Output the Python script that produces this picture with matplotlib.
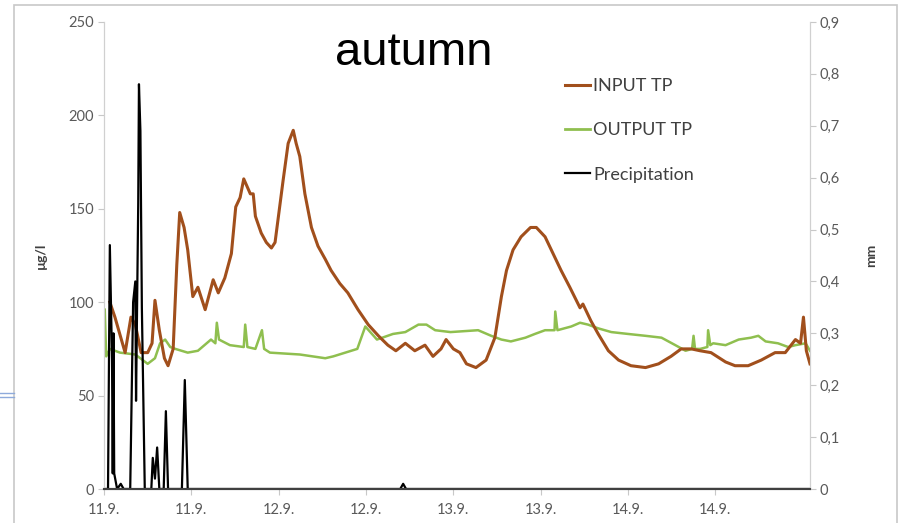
import matplotlib
matplotlib.use("Agg")
import matplotlib.pyplot as plt
from matplotlib.lines import Line2D
from matplotlib.patches import Rectangle

# hours since 11.9. 00:00
input_t = [0.8, 1.5, 2.9, 3.7, 4.3, 5.1, 6.0, 6.6, 7.0, 7.6, 8.3, 8.8, 9.5, 10.0, 10.4,
           11.0, 11.5, 12.2, 12.9, 13.9, 15.0, 15.7, 16.6, 17.5, 18.1, 18.7, 19.2, 20.1,
           20.5, 20.8, 21.6, 22.3, 23.0, 23.5, 23.9, 24.6, 25.3, 26.0, 26.4, 26.9, 27.6,
           28.5, 29.4, 30.4, 31.2, 32.4, 33.5, 34.9, 36.3, 37.7, 39.0, 40.1, 41.4, 42.7,
           44.1, 45.2, 46.3, 47.0, 48.0, 48.9, 49.8, 51.1, 52.5, 53.7, 54.6, 55.3, 56.2,
           57.3, 58.6, 59.4, 60.6, 61.7, 62.8, 64.0, 65.4, 65.8, 66.9, 67.9, 69.3, 70.7,
           72.4, 74.4, 76.2, 77.9, 79.3, 80.7, 81.9, 83.4, 85.4, 86.7, 88.5, 90.3, 92.2,
           93.6, 95.0, 95.7, 96.1, 96.5, 97.0]
input_tp = [100, 92, 73, 92, 88, 73, 73, 78, 101, 85, 70, 66, 75, 120, 148,
            140, 128, 103, 108, 96, 112, 105, 113, 126, 151, 156, 166, 158,
            158, 146, 137, 132, 129, 132, 144, 165, 185, 192, 185, 178, 158,
            140, 130, 123, 117, 110, 105, 96, 88, 82, 77, 74, 78, 74,
            77, 71, 75, 80, 75, 73, 67, 65, 69, 81, 103, 117, 128,
            135, 140, 140, 135, 126, 117, 108, 97, 99, 90, 83, 74, 69,
            66, 65, 67, 71, 75, 75, 74, 73, 68, 66, 66, 69, 73,
            73, 80, 78, 92, 74, 67]

output_t = [0.1, 0.3, 0.8, 2.2, 4.3, 6.0, 7.0, 7.7, 8.4, 9.1, 9.8, 11.5, 12.9, 14.7,
            15.3, 15.5, 15.8, 17.3, 19.2, 19.4, 19.7, 20.8, 21.7, 22.0, 22.8, 26.9,
            30.4, 31.5, 34.8, 35.9, 37.5, 39.7, 41.4, 43.2, 44.3, 45.5, 47.6, 51.4,
            53.2, 54.6, 55.9, 57.9, 59.2, 60.6, 61.9, 62.0, 62.3, 64.2, 65.4, 66.5,
            67.9, 69.7, 72.0, 74.4, 76.6, 78.5, 79.9, 80.8, 81.0, 81.2, 81.9, 82.9,
            83.0, 83.3, 83.7, 85.4, 87.2, 88.9, 89.9, 90.9, 92.6, 94.0, 95.0, 96.4, 97.0]
output_tp = [96, 71, 75, 73, 72, 67, 70, 78, 80, 76, 75, 73, 74, 80,
             78, 89, 80, 77, 76, 88, 76, 75, 85, 75, 73, 72,
             70, 71, 75, 87, 80, 83, 84, 88, 88, 85, 84, 85,
             82, 80, 79, 81, 83, 85, 85, 95, 85, 87, 89, 88,
             86, 84, 83, 82, 81, 77, 74, 75, 82, 75, 75, 76,
             85, 77, 78, 77, 80, 81, 82, 79, 78, 76, 77, 78, 74]

precip_t = [0.0, 0.55, 0.8, 1.1, 1.2, 1.3, 1.4, 1.8, 2.3, 2.7, 3.6, 4.0, 4.3, 4.4, 4.7,
            4.8, 5.0, 5.2, 5.6, 6.5, 6.7, 7.0, 7.3, 7.6, 8.2, 8.5, 8.8, 10.7, 11.1,
            11.5, 40.7, 41.1, 41.5, 97.0]
precip = [0, 0, 0.47, 0.25, 0.03, 0.30, 0.03, 0, 0.01, 0, 0, 0.36, 0.40, 0.17, 0.55,
          0.78, 0.69, 0.35, 0, 0, 0.06, 0.02, 0.08, 0, 0, 0.15, 0, 0, 0.21,
          0, 0, 0.01, 0, 0]

tick_hours = [0, 12, 24, 36, 48, 60, 72, 84]
tick_labels = ["11.9.", "11.9.", "12.9.", "12.9.", "13.9.", "13.9.", "14.9.", "14.9."]

plt.rcParams['font.family'] = ['Lato', 'DejaVu Sans']
grey = '#595959'

fig = plt.figure(figsize=(8.99, 5.23), dpi=100)
ax = fig.add_axes([0.1157, 0.065, 0.7853, 0.893])
ax2 = ax.twinx()

ax.plot(output_t, output_tp, color='#8fbf4f', lw=1.8, label='OUTPUT TP', zorder=2)
ax.plot(input_t, input_tp, color='#a14f1c', lw=2.2, label='INPUT TP', zorder=3)
ax2.plot(precip_t, precip, color='black', lw=1.6, label='Precipitation')

ax.set_xlim(0, 97)
ax.set_ylim(0, 250)
ax2.set_ylim(0, 0.9)
ax.set_yticks(range(0, 251, 50))
ax2.set_yticks([i / 10 for i in range(10)])
ax2.set_yticklabels(["0"] + ["0,%d" % i for i in range(1, 10)])
ax.set_xticks(tick_hours)
ax.set_xticklabels(tick_labels)

for a in (ax, ax2):
    for s in a.spines.values():
        s.set_color('#d0d0d0')
    a.spines['top'].set_visible(False)
    a.spines['bottom'].set_color('#404040')
    a.spines['bottom'].set_linewidth(1.5)
    a.tick_params(colors='#c8c8c8', labelcolor=grey, labelsize=10.5, length=4)
ax.tick_params(axis='y', pad=3)
ax2.tick_params(axis='y', pad=3)
ax.tick_params(axis='x', pad=6)

ax.set_ylabel("µg/l", fontweight='bold', fontsize=10, color='#404040', labelpad=16)
ax2.set_ylabel("mm", fontweight='bold', fontsize=10, color='#404040', rotation=90, labelpad=18)

fig.text(0.46, 0.898, "autumn", family='Liberation Sans', fontsize=34, ha='center', va='center')

handles = [Line2D([], [], color='#a14f1c', lw=2.2),
           Line2D([], [], color='#8fbf4f', lw=2.0),
           Line2D([], [], color='black', lw=1.6)]
ax.legend(handles, ['INPUT TP', 'OUTPUT TP', 'Precipitation'], frameon=False,
          loc='upper left', bbox_to_anchor=(0.63, 0.915), handlelength=1.4, handletextpad=0.15,
          labelspacing=1.57, fontsize=13, labelcolor='#404040')

# frame around the chart and the blue double line at the left edge
fig.patches.append(Rectangle((0.0156, -0.05), 0.982, 1.04, transform=fig.transFigure,
                             fill=False, edgecolor='#c8c8c8', lw=1.2))
fig.lines.append(Line2D([0, 0.0156], [0.249, 0.249], transform=fig.transFigure, color='#8eaadb', lw=1))
fig.lines.append(Line2D([0, 0.0156], [0.241, 0.241], transform=fig.transFigure, color='#8eaadb', lw=1))

fig.savefig("out.png", dpi=100)
